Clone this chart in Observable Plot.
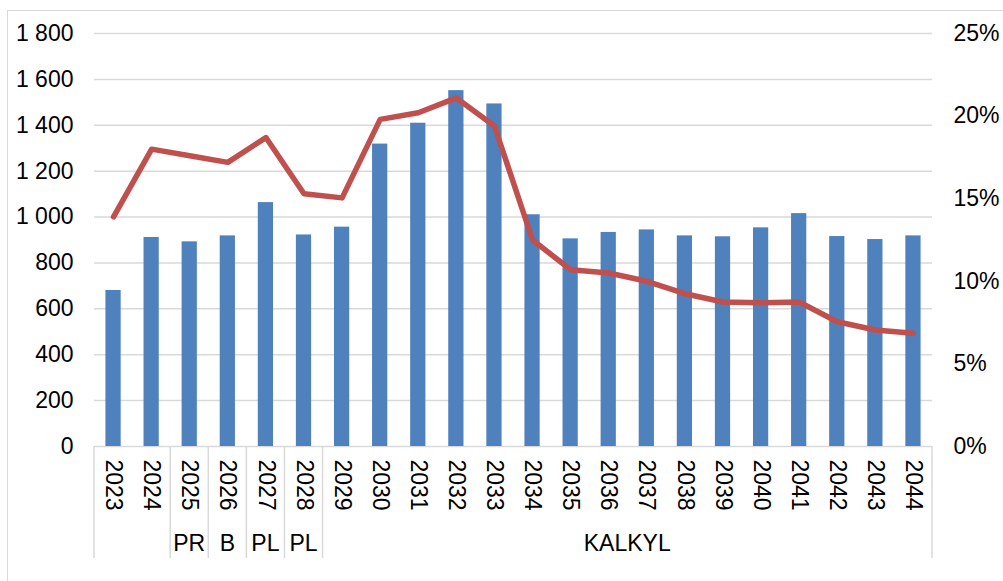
<!DOCTYPE html>
<html>
<head>
<meta charset="utf-8">
<script src="https://cdn.jsdelivr.net/npm/d3@7"></script>
<script src="https://cdn.jsdelivr.net/npm/@observablehq/plot@0.6"></script>
<style>
  html, body { margin: 0; padding: 0; background: #fff; }
  #wrap { position: relative; width: 1003px; height: 581px; overflow: hidden; }
  #border { position: absolute; left: 7px; top: 10px; width: 1000px; height: 590px;
            border: 1.5px solid #d9d9d9; pointer-events: none; z-index: 2; }
</style>
</head>
<body>
<div id="wrap"><div id="border"></div></div>
<script>
// ---- data ----
const years = ["2023","2024","2025","2026","2027","2028","2029","2030","2031","2032","2033",
               "2034","2035","2036","2037","2038","2039","2040","2041","2042","2043","2044"];
const amounts = [680, 911, 892, 918, 1063, 922, 956, 1318, 1409, 1551, 1493,
                 1010, 905, 933, 944, 918, 914, 953, 1015, 915, 902, 918];
const shares = [13.9, 18.0, 17.6, 17.2, 18.7, 15.3, 15.05, 19.8, 20.2, 21.1, 19.4,
                12.5, 10.7, 10.5, 10.0, 9.25, 8.75, 8.7, 8.75, 7.55, 7.05, 6.85];
const leftTicks = [0, 200, 400, 600, 800, 1000, 1200, 1400, 1600, 1800];
const rightTicks = [0, 5, 10, 15, 20, 25];
const groupLabels = ["", "PR", "B", "PL", "PL", "KALKYL"];
const groupFirst = ["2023", "2025", "2026", "2027", "2028", "2029"];
const groupLast  = ["2024", "2025", "2026", "2027", "2028", "2044"];

const leftMax = 1800, rightMax = 25;
const toLeft = p => p / rightMax * leftMax;

const rows = years.map((year, i) => ({year, amount: amounts[i], share: shares[i]}));

const fmtLeft = d => d >= 1000 ? `${Math.floor(d / 1000)} ${String(d % 1000).padStart(3, "0")}` : String(d);

const FONT = 23;
const GRID = "#d9d9d9";

// custom category axis with group level, drawn from the x scale
function groupAxis(index, scales, values, dimensions) {
  const x = scales.x;
  const step = x.step();
  const bw = x.bandwidth();
  const pad = (step - bw) / 2;
  const y0 = dimensions.height - dimensions.marginBottom;
  const g = d3.create("svg:g");
  const bounds = groupFirst.map(y => x(y) - pad);
  bounds.push(x(groupLast[groupLast.length - 1]) + bw + pad);
  for (const b of bounds) {
    g.append("line")
      .attr("x1", b).attr("x2", b)
      .attr("y1", y0).attr("y2", y0 + 112)
      .attr("stroke", GRID).attr("stroke-width", 1.5);
  }
  groupLabels.forEach((label, i) => {
    const a = x(groupFirst[i]) - pad;
    const b = x(groupLast[i]) + bw + pad;
    g.append("text")
      .attr("x", (a + b) / 2)
      .attr("y", y0 + 98)
      .attr("dy", "0.32em")
      .attr("text-anchor", "middle")
      .attr("font-size", FONT)
      .attr("fill", "#000")
      .text(label);
  });
  return g.node();
}

const chart = Plot.plot({
  width: 1003,
  height: 581,
  marginLeft: 94,
  marginRight: 71,
  marginTop: 33,
  marginBottom: 135,
  style: {fontFamily: "'Liberation Sans', Arial, sans-serif", fontSize: FONT + "px", background: "transparent", color: "#000"},
  x: {type: "band", domain: years, paddingInner: 0.6, paddingOuter: 0.3, round: false, axis: null},
  y: {domain: [0, leftMax], axis: null},
  marks: [
    Plot.ruleY(leftTicks, {stroke: GRID, strokeWidth: 1.5}),
    Plot.barY(rows, {x: "year", y: "amount", fill: "#4F81BD"}),
    Plot.line(rows, {x: "year", y: d => toLeft(d.share), stroke: "#C0504D", strokeWidth: 5.5,
                     strokeLinejoin: "round", strokeLinecap: "round"}),
    Plot.axisY(leftTicks, {anchor: "left", tickSize: 0, tickPadding: 21, tickFormat: fmtLeft,
                           fontSize: FONT, label: null}),
    Plot.axisY(rightTicks.map(toLeft), {anchor: "right", tickSize: 0, tickPadding: 21,
                           tickFormat: v => Math.round(v / leftMax * rightMax) + "%", fontSize: FONT, label: null}),
    Plot.text(years, {x: d => d, text: d => d, frameAnchor: "bottom", dy: 13, rotate: 90,
                      textAnchor: "start", lineAnchor: "middle", fontSize: FONT, fill: "#000"}),
    groupAxis
  ]
});
document.getElementById("wrap").appendChild(chart);
chart.style.position = "absolute";
chart.style.left = "0";
chart.style.top = "0";
</script>
</body>
</html>
